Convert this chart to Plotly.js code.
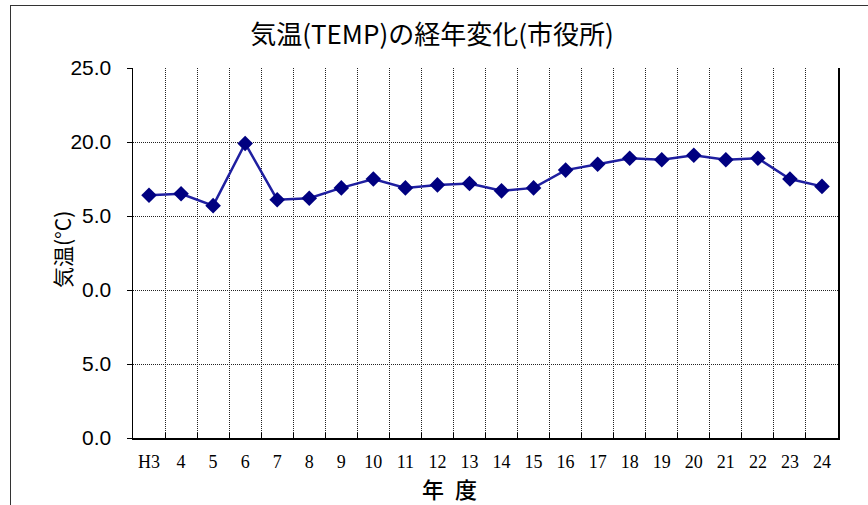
<!DOCTYPE html>
<html>
<head>
<meta charset="utf-8">
<script src="https://cdn.plot.ly/plotly-3.0.1.min.js"></script>
<style>
  html, body { margin: 0; padding: 0; background: #fff; }
  #wrap { position: relative; width: 868px; height: 505px; overflow: hidden; }
  #chart { position: absolute; left: 0; top: 0; width: 868px; height: 505px; }
  #frame { position: absolute; left: 10px; top: 5px; width: 1000px; height: 600px;
           border-left: 1.5px solid #333; border-top: 1.5px solid #333; pointer-events: none; }
</style>
</head>
<body>
<div id="wrap">
  <div id="chart"></div>
  <div id="frame"></div>
</div>
<script>
const years = ["H3","4","5","6","7","8","9","10","11","12","13","14","15","16","17","18","19","20","21","22","23","24"];
const temps = [16.4,16.5,15.7,19.9,16.1,16.2,16.9,17.5,16.9,17.1,17.2,16.7,16.9,18.1,18.5,18.9,18.8,19.1,18.8,18.9,17.5,17.0];
const yTickVals = [0,5,10,15,20,25];
const yTickText = ["0.0","5.0","0.0","5.0","20.0","25.0"];

const trace = {
  x: years,
  y: temps,
  type: "scatter",
  mode: "lines+markers",
  line: { color: "#1f1fa0", width: 2.5 },
  marker: { symbol: "diamond", size: 12, color: "#000080", line: { width: 0 } },
  hoverinfo: "skip"
};

const layout = {
  width: 868, height: 505,
  margin: { l: 133, r: 30, t: 68, b: 67, pad: 0 },
  paper_bgcolor: "#fff",
  plot_bgcolor: "#fff",
  showlegend: false,
  title: {
    text: "気温(TEMP)の経年変化(市役所)",
    font: { family: "Noto Sans CJK JP", size: 26, color: "#000" },
    x: 432 / 868, xanchor: "center", xref: "container",
    y: 1 - 35 / 505, yanchor: "middle", yref: "container"
  },
  xaxis: {
    type: "category",
    range: [-0.5, 21.5],
    tickson: "boundaries",
    ticks: "inside", ticklen: 5, tickcolor: "#000", tickwidth: 1,
    showgrid: true, gridcolor: "#222", gridwidth: 1, griddash: "1px,1px",
    showline: true, linecolor: "#000", linewidth: 1.5, mirror: false,
    tickfont: { family: "Liberation Serif", size: 18, color: "#000" },
    ticklabelstandoff: 7,
    fixedrange: true
  },
  yaxis: {
    range: [0, 25],
    tickvals: yTickVals,
    ticktext: yTickText,
    ticks: "outside", ticklen: 5, tickcolor: "#000", tickwidth: 1,
    showgrid: true, gridcolor: "#222", gridwidth: 1, griddash: "1px,1px",
    showline: true, linecolor: "#000", linewidth: 1.5, mirror: true,
    zeroline: false,
    tickfont: { family: "Liberation Sans", size: 21, color: "#000" },
    ticklabelstandoff: 11,
    fixedrange: true
  },
  annotations: [
    {
      text: "年\u2002度", xref: "paper", yref: "paper",
      x: (449 - 133) / 705, y: -(488 - 438) / 370,
      xanchor: "center", yanchor: "middle", showarrow: false,
      font: { family: "Noto Sans CJK JP", size: 22, weight: 500, color: "#000" }
    },
    {
      text: "気温(°C)", xref: "paper", yref: "paper",
      x: (62 - 133) / 705, y: (438 - 250) / 370,
      xanchor: "center", yanchor: "middle", showarrow: false, textangle: -90,
      font: { family: "Noto Sans CJK JP", size: 21, color: "#000" }
    }
  ]
};

Plotly.newPlot("chart", [trace], layout, { staticPlot: true, displayModeBar: false });
</script>
</body>
</html>
